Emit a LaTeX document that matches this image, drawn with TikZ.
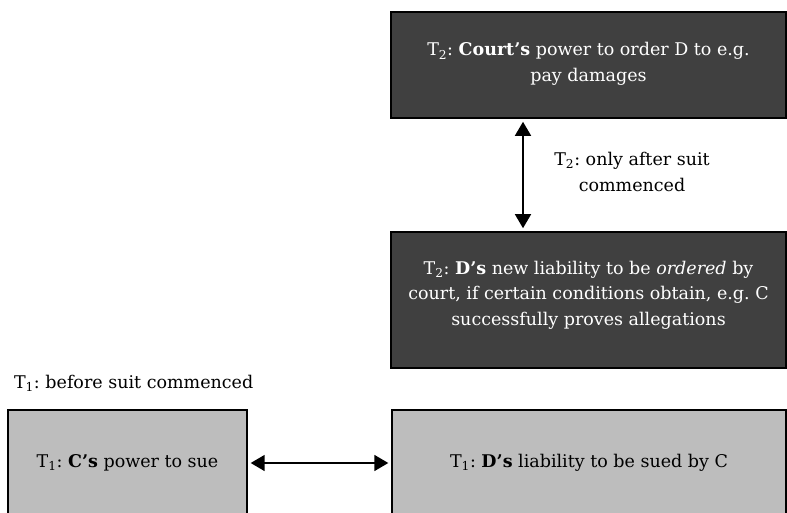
\documentclass[tikz,border=0pt]{standalone}
\usepackage{fontspec}
\setmainfont{DejaVu Serif}
\usetikzlibrary{arrows.meta}

\definecolor{boxdark}{gray}{0.25}
\definecolor{boxgrey}{gray}{0.74}

\begin{document}
\begin{tikzpicture}[x=1pt,y=1pt,
    darkbox/.style={draw=black,line width=1.6pt,fill=boxdark,text=white,align=center,inner sep=0pt},
    greybox/.style={draw=black,line width=1.4pt,fill=boxgrey,align=center,inner sep=0pt},
    twoway/.style={line width=1.6pt,{Triangle[length=14pt,width=16pt]}-{Triangle[length=14pt,width=16pt]}}]
            \useasboundingbox (0,0) rectangle (787,512);
            \fontsize{17.5}{25.5}\selectfont\frenchspacing
            % T2 boxes
            \node[darkbox,minimum width=395,minimum height=106] (courtT2) at (588.5,447) {};
            \node[text=white,align=center] (courtT2txt) at (588.5,448) {T\textsubscript{2}: \textbf{Court’s} power to order D to e.g.\\ pay damages};
            \node[darkbox,minimum width=395,minimum height=136] (liabT2) at (588.5,212) {};
            \node[text=white,align=center] (liabT2txt) at (588.5,217) {T\textsubscript{2}: \textbf{D’s} new liability to be \textit{ordered} by\\ court, if certain conditions obtain, e.g. C\\ successfully proves allegations};
            % T1 boxes
            \node[greybox,minimum width=239,minimum height=106] (powerT1) at (127.5,49) {T\textsubscript{1}: \textbf{C’s} power to sue};
            \node[greybox,minimum width=394,minimum height=106] (liabT1) at (589,49) {T\textsubscript{1}: \textbf{D’s} liability to be sued by C};
            % labels
            \node[align=center] (afterlbl) at (632,340) {T\textsubscript{2}: only after suit\\ commenced};
            \node[anchor=west] (beforelbl) at (8,129) {T\textsubscript{1}: before suit commenced};
            % arrows
            \coordinate (vline) at (523,0);
            \draw[twoway,shorten <=3pt,shorten >=3pt] (courtT2.south -| vline) -- (liabT2.north -| vline);
            \draw[twoway,shorten <=3pt,shorten >=3pt] (powerT1.east) -- (powerT1.east -| liabT1.west);
        \end{tikzpicture}
\end{document}
